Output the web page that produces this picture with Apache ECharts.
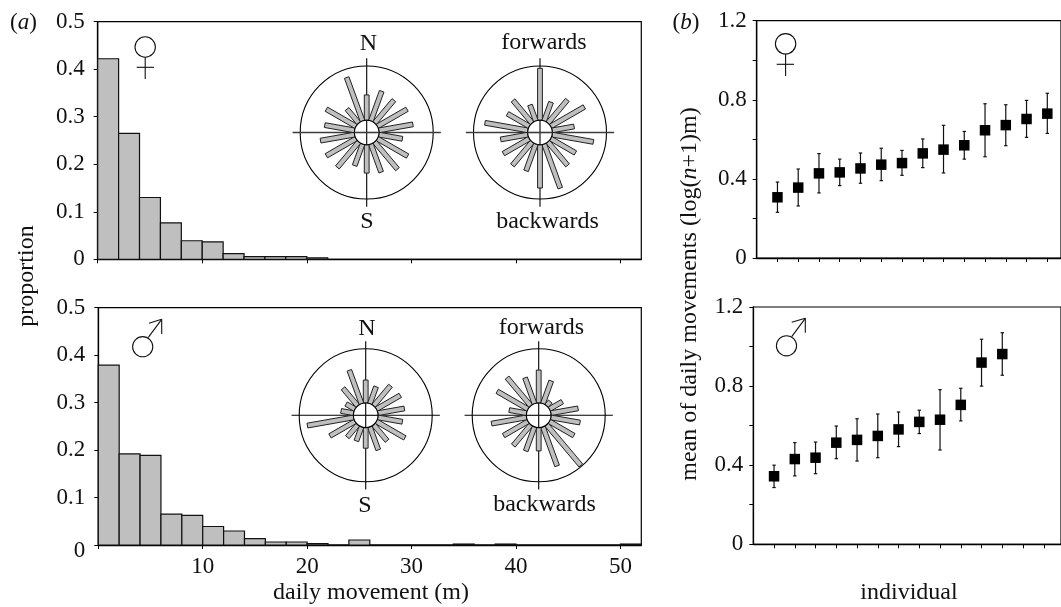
<!DOCTYPE html>
<html>
<head>
<meta charset="utf-8">
<style>html,body{margin:0;padding:0;background:#fff}#c{width:1061px;height:607px}</style>
<script src="https://cdn.jsdelivr.net/npm/echarts@6/dist/echarts.min.js"></script>
</head>
<body>
<div id="c"></div>
<script>
// ---------- data ----------
const binWidth = 2;
const femaleProportion = [0.422,0.265,0.13,0.0765,0.039,0.0365,0.012,0.0056,0.0056,0.0056,0.003];
const maleProportion = [0.379,0.192,0.189,0.065,0.0625,0.039,0.0295,0.0133,0.0063,0.0063,0.003,0,0.0105,0,0,0,0,0.002,0,0.002,0,0,0,0,0,0.002];

const spokeAngles = [0,20,40,60,80,100,120,140,160,180,200,220,240,260,280,300,320,340];
const femaleCompass = [.565,.66,.635,.70,.705,.545,.71,.72,.635,.61,.53,.686,.70,.705,.64,.70,.46,.88];
const femaleBody = [.965,.485,.64,.77,.52,.815,.615,.645,.89,.835,.613,.645,.636,.60,.84,.565,.63,.44];
const maleCompass = [.53,.457,.58,.60,.59,.56,.68,.50,.553,.495,.41,.43,.62,.89,.376,.34,.53,.72];
const maleBody = [.68,.55,.27,.41,.60,.63,.61,.985,.81,.535,.57,.594,.61,.72,.45,.72,.74,.60];

const femaleMean = [.307,.356,.428,.433,.453,.472,.48,.529,.548,.57,.646,.672,.703,.73];
const femaleHigh = [.384,.45,.528,.50,.531,.555,.544,.602,.671,.64,.78,.775,.797,.833];
const femaleLow = [.231,.263,.329,.366,.378,.391,.418,.457,.43,.50,.512,.568,.61,.63];
const maleMean = [.344,.431,.438,.514,.528,.548,.581,.619,.63,.705,.919,.962];
const maleHigh = [.40,.514,.517,.598,.635,.659,.669,.678,.782,.789,1.037,1.07];
const maleLow = [.287,.346,.357,.433,.421,.438,.494,.56,.477,.624,.80,.855];

const histXTicks = [0,10,20,30,40,50];
const histYTicks = ['0','0.1','0.2','0.3','0.4','0.5'];
const individualYLabels = ['0','0.4','0.8','1.2'];
const individualTicks = [1,2,3,4,5,6,7,8,9,10,11,12,13,14];

// ---------- styling ----------
const FONT = '"Liberation Serif","Times New Roman",serif';
const INK = '#000';
const TEXT = '#111';
const GREY = '#bfbfbf';
const FS = 23;
const LFS = 24;
const HUB = 0.185;
const REACH = 1.115;

function baseAxisLine(){ return {show:true,onZero:false,lineStyle:{color:INK,width:1.3}}; }
function tick(){ return {show:true,length:4,inside:false,lineStyle:{color:INK,width:1}}; }

const grids=[], xAxes=[], yAxes=[], series=[], polars=[], angleAxes=[], radiusAxes=[];

function histPanel(left,top,bottom,values,showLabels){
  const i=grids.length;
  grids.push({left:left,top:top,width:641.3-left,height:bottom-top,show:true,borderColor:INK,borderWidth:1.2,backgroundColor:'transparent'});
  xAxes.push({type:'value',gridIndex:i,min:0,max:52,
    axisLine:baseAxisLine(),axisTick:Object.assign(tick(),{customValues:histXTicks}),splitLine:{show:false},
    axisLabel:{show:showLabels,margin:10,color:TEXT,fontFamily:FONT,fontSize:FS,customValues:histXTicks.slice(1)}});
  yAxes.push({type:'value',gridIndex:i,min:0,max:0.5,interval:0.1,
    axisLine:baseAxisLine(),axisTick:tick(),splitLine:{show:false},
    axisLabel:{margin:13,color:TEXT,fontFamily:FONT,fontSize:FS,
      rich:{low:{fontFamily:FONT,fontSize:FS,color:TEXT,padding:[12,0,0,0]}},
      formatter:v=>{const s=histYTicks[Math.round(v*10)];return (showLabels&&v===0)?'{low|'+s+'}':s;}}});
  series.push({type:'custom',xAxisIndex:i,yAxisIndex:i,silent:true,clip:false,
    data:values.map((v,k)=>[k*binWidth,(k+1)*binWidth,v]),
    encode:{x:[0,1],y:2},
    renderItem:(p,api)=>{
      const a=api.coord([api.value(0),0]), b=api.coord([api.value(1),api.value(2)]);
      return {type:'rect',shape:{x:a[0],y:b[1],width:b[0]-a[0],height:a[1]-b[1]},
        style:{fill:GREY,stroke:'#111',lineWidth:1.2}};
    }});
}

function individualPanel(left,top,bottom,mean,high,low,xMax){
  const i=grids.length;
  grids.push({left:left,top:top,width:1062-left,height:bottom-top,show:true,borderColor:INK,borderWidth:1.2,backgroundColor:'transparent'});
  xAxes.push({type:'value',gridIndex:i,min:0,max:xMax,
    axisLine:baseAxisLine(),axisTick:Object.assign(tick(),{customValues:individualTicks}),
    splitLine:{show:false},axisLabel:{show:false}});
  yAxes.push({type:'value',gridIndex:i,min:0,max:1.2,interval:0.2,
    axisLine:baseAxisLine(),axisTick:tick(),splitLine:{show:false},
    axisLabel:{margin:10,color:TEXT,fontFamily:FONT,fontSize:FS,
      formatter:v=>{const k=Math.round(v*10);return k%4===0?individualYLabels[k/4]:'';}}});
  series.push({type:'custom',xAxisIndex:i,yAxisIndex:i,silent:true,
    data:mean.map((m,k)=>[k+1,low[k],high[k]]),
    encode:{x:0,y:[1,2]},
    renderItem:(p,api)=>{
      const l=api.coord([api.value(0),api.value(1)]), h=api.coord([api.value(0),api.value(2)]);
      const st={stroke:'#111',lineWidth:1.2};
      return {type:'group',children:[
        {type:'line',shape:{x1:l[0],y1:l[1],x2:h[0],y2:h[1]},style:st},
        {type:'line',shape:{x1:l[0]-1.7,y1:l[1],x2:l[0]+1.7,y2:l[1]},style:st},
        {type:'line',shape:{x1:h[0]-1.7,y1:h[1],x2:h[0]+1.7,y2:h[1]},style:st}
      ]};
    }});
  series.push({type:'scatter',xAxisIndex:i,yAxisIndex:i,silent:true,symbol:'rect',symbolSize:10.5,
    itemStyle:{color:'#000',opacity:1},z:5,data:mean.map((m,k)=>[k+1,m])});
}

function rose(cx,cy,values,hLine,vLine){
  const i=polars.length;
  polars.push({center:[cx,cy],radius:[0,66.5]});
  angleAxes.push({polarIndex:i,type:'value',min:0,max:360,startAngle:90,clockwise:true,
    axisLine:{show:true,lineStyle:{color:INK,width:1.1}},axisTick:{show:false},axisLabel:{show:false},splitLine:{show:false}});
  radiusAxes.push({polarIndex:i,type:'value',min:0,max:1,axisLine:{show:false},axisTick:{show:false},axisLabel:{show:false},splitLine:{show:false}});
  const arm=(api,ang,r0,r1,st)=>{
    const a=api.coord([r0,ang]), b=api.coord([r1,ang]);
    return {type:'line',shape:{x1:a[0],y1:a[1],x2:b[0],y2:b[1]},style:st};
  };
  const crossStyle=ang=>(ang%180===0?vLine:hLine);
  // cross hair arms
  series.push({type:'custom',coordinateSystem:'polar',polarIndex:i,silent:true,z:2,
    data:[[0,REACH],[90,REACH],[180,REACH],[270,REACH]],
    renderItem:(p,api)=>arm(api,api.value(0),0,api.value(1),crossStyle(api.value(0)))});
  // spokes
  series.push({type:'custom',coordinateSystem:'polar',polarIndex:i,silent:true,z:3,
    data:values.map((v,k)=>[spokeAngles[k],v]),
    renderItem:(p,api)=>{
      const ang=api.value(0);
      const a=api.coord([HUB,ang]), b=api.coord([api.value(1),ang]);
      const dx=b[0]-a[0],dy=b[1]-a[1],len=Math.hypot(dx,dy)||1,nx=-dy/len*2.4,ny=dx/len*2.4;
      return {type:'polygon',shape:{points:[[a[0]+nx,a[1]+ny],[b[0]+nx,b[1]+ny],[b[0]-nx,b[1]-ny],[a[0]-nx,a[1]-ny]]},
        style:{fill:GREY,stroke:'#222',lineWidth:1}};
    }});
  // hub
  series.push({type:'custom',coordinateSystem:'polar',polarIndex:i,silent:true,z:4,
    data:[[0,HUB]],
    renderItem:(p,api)=>{
      const c=api.coord([0,0]), e=api.coord([HUB,0]);
      const r=Math.hypot(e[0]-c[0],e[1]-c[1]);
      return {type:'group',children:[
        {type:'circle',shape:{cx:c[0],cy:c[1],r:r},style:{fill:'#fff',stroke:INK,lineWidth:1.1}},
        arm(api,0,0,HUB,vLine),arm(api,180,0,HUB,vLine),arm(api,90,0,HUB,hLine),arm(api,270,0,HUB,hLine)
      ]};
    }});
}

histPanel(97.7,21.7,259.3,femaleProportion,false);
histPanel(98.3,307.7,545,maleProportion,true);
individualPanel(756.7,20.7,258,femaleMean,femaleHigh,femaleLow,14.66);
individualPanel(753.3,307,544.3,maleMean,maleHigh,maleLow,14.83);

const heavy={stroke:'#3c3c3c',lineWidth:1.6}, thin={stroke:'#000',lineWidth:1.1};
rose(366.7,132.5,femaleCompass,heavy,thin);
rose(540,132.5,femaleBody,heavy,thin);
rose(365.7,415.3,maleCompass,thin,thin);
rose(538.7,415.3,maleBody,thin,thin);

// ---------- annotations ----------
const g=[];
function label(text,x,y,extra,size){
  const s=size||LFS;
  g.push(Object.assign({type:'text',x:x,y:y,silent:true,z:20,
    style:{text:text,fontFamily:FONT,fontSize:s,fill:TEXT,align:'center',verticalAlign:'middle',
      rich:{i:{fontFamily:FONT,fontSize:s,fontStyle:'italic',fill:TEXT}}}},extra||{}));
}
label('N',368.5,44); label('S',367,222); label('forwards',544,43); label('backwards',547.5,222);
label('N',367,329); label('S',365,506); label('forwards',541.5,328); label('backwards',544.5,505);
label('({i|a})',23.5,23,null,23); label('({i|b})',686,23,null,23);
label('daily movement (m)',371,593);
label('individual',909,593);
label('proportion',27,276,{rotation:Math.PI/2});
label('mean of daily movements (log({i|n}+1)m)',690,294,{rotation:Math.PI/2});

const sym={stroke:'#111',lineWidth:1.1,fill:'none'};
function line(x1,y1,x2,y2){ g.push({type:'line',silent:true,z:20,shape:{x1,y1,x2,y2},style:sym}); }
function ring(cx,cy,r){ g.push({type:'circle',silent:true,z:20,shape:{cx,cy,r},style:{stroke:'#111',lineWidth:1.1,fill:'#fff'}}); }
function venus(cx,cy,barY,endY,barL,barR){ ring(cx,cy,10.2); line(cx,cy+10.2,cx,endY); line(barL,barY,barR,barY); }
function mars(cx,cy,x0,y0,tx,ty,hx,hy){ ring(cx,cy,10.1); line(x0,y0,tx,ty); line(hx,ty+4,tx,ty); line(tx,ty,tx,hy); }
venus(145.2,47,67.3,79,136.7,154);
venus(785.6,43.8,64.3,76,776.7,794);
mars(142.7,346.7,148.3,337.3,161.7,319.3,149,334);
mars(786.5,345.8,791.7,336.7,805.3,318.3,791.7,332.7);

const chart=echarts.init(document.getElementById('c'),null,{renderer:'canvas'});
chart.setOption({
  animation:false,backgroundColor:'#fff',
  grid:grids,xAxis:xAxes,yAxis:yAxes,polar:polars,angleAxis:angleAxes,radiusAxis:radiusAxes,
  series:series,graphic:{elements:g}
});
</script>
</body>
</html>
